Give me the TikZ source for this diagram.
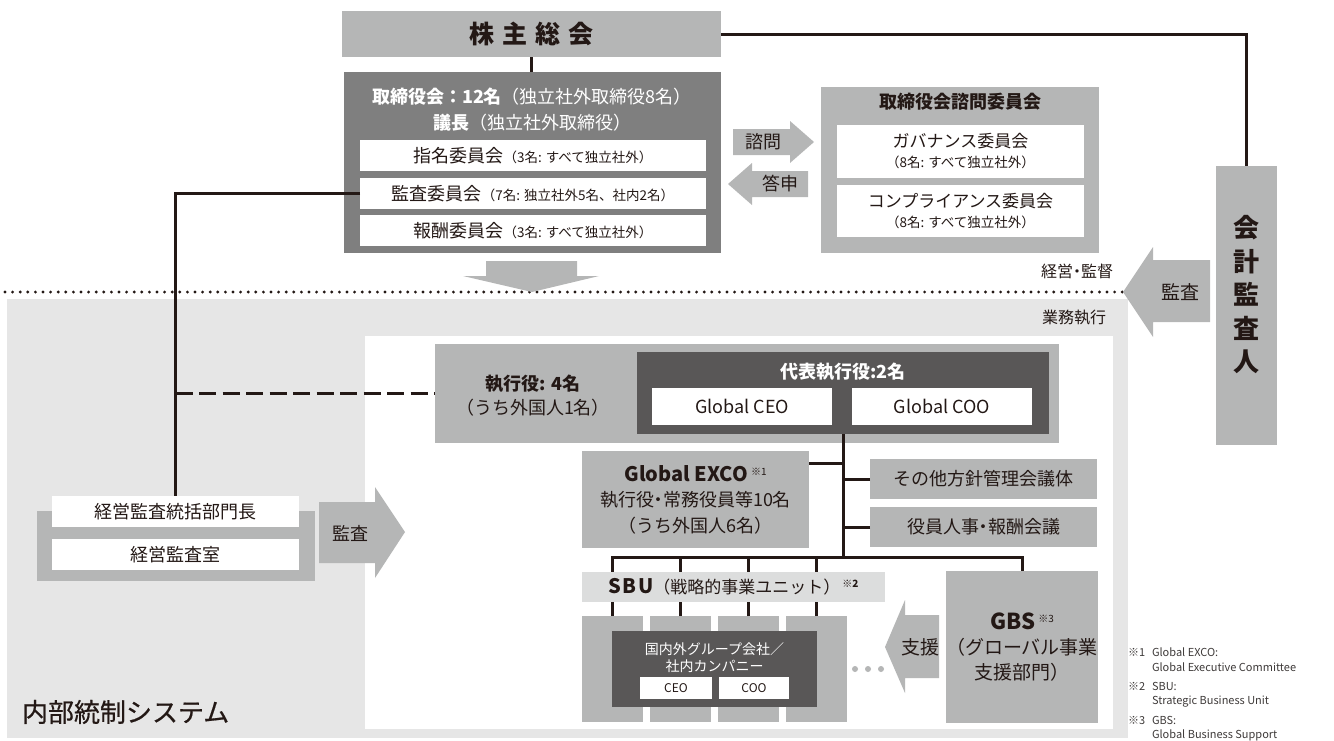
\documentclass[tikz,border=0pt]{standalone}
\usepackage{fontspec}
\setmainfont{Noto Sans CJK JP}
\usetikzlibrary{positioning}
\definecolor{ink}{HTML}{231815}
\definecolor{boxgray}{HTML}{B5B6B6}
\definecolor{boardgray}{HTML}{7F7F7F}
\definecolor{execgray}{HTML}{595757}
\definecolor{areagray}{HTML}{E6E6E6}
\definecolor{sbugray}{HTML}{DCDDDD}
\definecolor{notegray}{HTML}{3E3A39}
\newcommand\sz[2]{\fontsize{#1}{#2}\selectfont}
\newcommand\nakadot{{\addfontfeature{RawFeature=+halt}・}}
\tikzset{
    panel/.style={inner sep=0pt, outer sep=0pt, anchor=north west, align=center, text=ink},
    graybox/.style={panel, fill=boxgray},
    boardbox/.style={panel, fill=boardgray},
    execbox/.style={panel, fill=execgray},
    whitebox/.style={panel, fill=white},
    txt/.style={inner sep=0pt, outer sep=0pt, align=center, text=ink},
    notetxt/.style={txt, anchor=west, text=notegray, font=\sz{11}{11}},
    conn/.style={draw=ink, line width=3pt},
    dotline/.style={draw=ink, line width=3.2pt, line cap=round, dash pattern=on 0pt off 7.6pt},
    dashline/.style={conn, dash pattern=on 17pt off 6.5pt}
}

\begin{document}
\begin{tikzpicture}[x=1pt,y=-1pt]
        \useasboundingbox (0,0) rectangle (1334,740);

        % execution area
        \fill[areagray] (7,299) rectangle (1128,738);
        \fill[white] (365,336) rectangle (1113,729);
        \coordinate (dotstart) at (5,292);
        \coordinate (audittip) at (1123,292);
        \draw[dotline] (dotstart) -- (audittip);
        \node[txt, anchor=east] (supervision) at (1113,271) {\sz{16}{16}経営\nakadot 監督};
        \node[txt, anchor=east] (execution) at (1106,318) {\sz{16}{16}業務執行};

        % shareholders and board
        \node[graybox, minimum width=379, minimum height=46] (agm) at (342,11) {\sz{25}{25}\bfseries 株\hspace{8pt}主\hspace{8pt}総\hspace{8pt}会};
        \node[boardbox, minimum width=377, minimum height=181] (board) at (344,72) {};
        \draw[conn] (agm.south) -- (agm.south |- board.north);
        \node[txt, text=white, font=\sz{18}{26}] (boardtitle) at (532,110) {\textbf{取締役会：12名}（独立社外取締役8名）\\\textbf{議長}（独立社外取締役）};
        \node[whitebox, minimum width=346, minimum height=31] (nomcom) at (360,140) {\sz{18}{18}指名委員会{\sz{13.5}{14}（3名: すべて独立社外）}};
        \node[whitebox, minimum width=346, minimum height=31] (auditcom) at (360,178) {\sz{18}{18}監査委員会{\sz{13.5}{14}（7名: 独立社外5名、社内2名）}};
        \node[whitebox, minimum width=346, minimum height=31] (compcom) at (360,215) {\sz{18}{18}報酬委員会{\sz{13.5}{14}（3名: すべて独立社外）}};
        \fill[boxgray] (486,261) -- (577,261) -- (577,276) -- (599,276) -- (532,292) -- (463,276) -- (486,276) -- cycle;

        % advisory committees
        \node[graybox, minimum width=278, minimum height=166] (advisory) at (821,87) {};
        \node[txt] (advtitle) at (960,102) {\sz{18}{18}\bfseries 取締役会諮問委員会};
        \node[whitebox, minimum width=247, minimum height=53, font=\sz{17}{20}] (govcom) at (837,125) {ガバナンス委員会\\{\sz{13.5}{20}（8名: すべて独立社外）}};
        \node[whitebox, minimum width=247, minimum height=52, font=\sz{17}{20}] (compliancecom) at (837,185) {コンプライアンス委員会\\{\sz{13.5}{20}（8名: すべて独立社外）}};
        \fill[boxgray] (733,129) -- (790,129) -- (790,121) -- (814,142) -- (790,163) -- (790,155) -- (733,155) -- cycle;
        \node[txt] (consult) at (763,142) {\sz{18}{18}諮問};
        \fill[boxgray] (808,171) -- (752,171) -- (752,163) -- (728,184) -- (752,205) -- (752,197) -- (808,197) -- cycle;
        \node[txt] (report) at (780,184) {\sz{18}{18}答申};

        % accounting auditor
        \node[graybox, minimum width=61, minimum height=279] (auditor) at (1216,166) {};
        \node[txt, font=\sz{26}{33.5}\bfseries] (auditortext) at (1246.5,295) {会\\計\\監\\査\\人};
        \draw[conn] (agm.east) -| (auditor.north);
        \fill[boxgray] (1210,260) -- (1153,260) -- (1153,247) -- (audittip) -- (1153,337) -- (1153,322) -- (1210,322) -- cycle;
        \node[txt] (extaudit) at (1180,292) {\sz{19}{19}監査};

        % internal audit
        \node[graybox, minimum width=278, minimum height=70] (iaoffice) at (37,511) {};
        \node[whitebox, minimum width=247, minimum height=31] (iahead) at (52,496) {\sz{18}{18}経営監査統括部門長};
        \node[whitebox, minimum width=247, minimum height=31] (iadept) at (52,539) {\sz{18}{18}経営監査室};
        \draw[conn] (auditcom.west) -| (iahead.north);
        \fill[boxgray] (319,502) -- (375,502) -- (375,487) -- (405,532) -- (375,578) -- (375,563) -- (319,563) -- cycle;
        \node[txt] (intaudit) at (350,533) {\sz{18}{18}監査};
        \node[txt, anchor=west] (ics) at (22,712) {\sz{26}{26}\addfontfeature{FakeBold=0.6}内部統制システム};

        % executive officers
        \node[graybox, minimum width=624, minimum height=99] (execs) at (435,344) {};
        \draw[dashline] (execs.west -| iahead.north) -- (execs.west);
        \node[txt, font=\sz{18}{24}] (execstext) at (533,396) {\textbf{執行役: 4名}\\（うち外国人1名）};
        \node[execbox, minimum width=412, minimum height=82] (rep) at (637,352) {};
        \node[txt, text=white] (reptitle) at (843,372) {\sz{18}{18}\bfseries 代表執行役:2名};
        \node[whitebox, minimum width=180, minimum height=37] (gceo) at (652,388) {\sz{18}{18}Global CEO};
        \node[whitebox, minimum width=180, minimum height=37] (gcoo) at (852,388) {\sz{18}{18}Global COO};

        % management bodies
        \node[graybox, minimum width=227, minimum height=97, font=\sz{18}{25.5}] (exco) at (582,451) {{\sz{20}{25.5}\bfseries Global EXCO}\,\raisebox{6pt}{\sz{10}{10}※1}\\執行役\nakadot 常務役員等10名\\（うち外国人6名）};
        \node[graybox, minimum width=227, minimum height=40] (otherconf) at (870,459) {\sz{18}{18}その他方針管理会議体};
        \node[graybox, minimum width=227, minimum height=40] (hrconf) at (870,507) {\sz{18}{18}役員人事\nakadot 報酬会議};

        % business units
        \foreach \i/\x in {1/582,2/650,3/718,4/786}
            \node[graybox, minimum width=61, minimum height=106] (unit\i) at (\x,616) {};
        \node[graybox, minimum width=152, minimum height=152, font=\sz{19}{25}] (gbs) at (946,571) {{\sz{22}{25}\bfseries GBS}\,\raisebox{7pt}{\sz{10}{10}※3}\\（グローバル事業\\支援部門）};

        % tree
        \coordinate (fork) at (rep.south |- 0,557);
        \draw[conn] (rep.south) -- (fork);
        \draw[conn] ([yshift=-12pt]exco.north east) -- ([yshift=-12pt]exco.north east -| rep.south);
        \draw[conn] (otherconf.west) -- (otherconf.west -| rep.south);
        \draw[conn] (hrconf.west) -- (hrconf.west -| rep.south);
        \draw[conn] (unit1.north) -- (unit1.north |- fork) -- (gbs.north |- fork) -- (gbs.north);
        \foreach \u in {unit2,unit3,unit4}
            \draw[conn] (\u.north) -- (\u.north |- fork);
        \node[panel, fill=sbugray, minimum width=303, minimum height=30] (sbu) at (582,572) {{\sz{20}{20}\bfseries S\kern1.5pt B\kern1.5pt U}{\sz{17}{17}（戦略的事業ユニット）}\hspace{2pt}\raisebox{6pt}{\sz{10}{10}\bfseries ※2}};

        % group companies
        \node[execbox, minimum width=205, minimum height=76] (groupco) at (612,631) {};
        \node[txt, text=white, font=\sz{14}{17}] (groupcotext) at (714.5,658) {国内外グループ会社／\\社内カンパニー};
        \node[whitebox, minimum width=72, minimum height=22] (ceo) at (640,677) {\sz{12}{12}CEO};
        \node[whitebox, minimum width=70, minimum height=22] (coo) at (719,677) {\sz{12}{12}COO};
        \foreach \x in {855,868,881}
            \fill[boxgray] (\x,669) circle (3pt);
        \fill[boxgray] (939,615) -- (905,615) -- (905,600) -- (885,647) -- (905,693) -- (905,678) -- (939,678) -- cycle;
        \node[txt] (support) at (920,647) {\sz{19}{19}支援};

        % notes
        \foreach \n/\y/\a/\b in {1/652/Global EXCO:/Global Executive Committee,2/686/SBU:/Strategic Business Unit,3/720/GBS:/Global Business Support}{
            \node[notetxt] (note\n) at (1128,\y) {※\n};
            \node[notetxt] (note\n a) at (1152,\y) {\a};
            \node[notetxt] (note\n b) at (1152,\y+15.5) {\b};
        }
\end{tikzpicture}
\end{document}
